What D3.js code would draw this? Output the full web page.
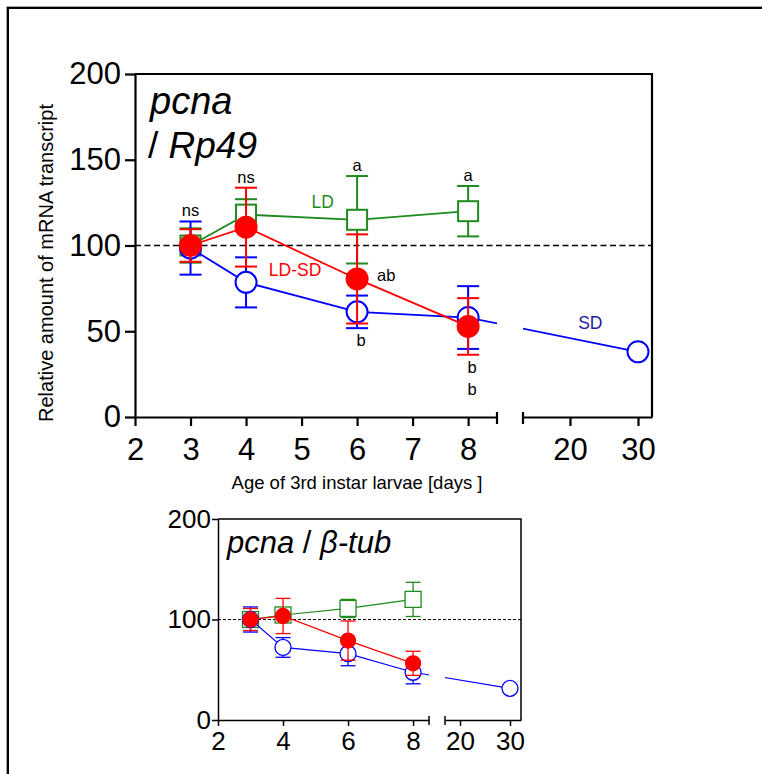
<!DOCTYPE html>
<html>
<head>
<meta charset="utf-8">
<script src="https://cdn.jsdelivr.net/npm/d3@7"></script>
<style>
  body { margin: 0; background: #fff; }
  text { font-family: "Liberation Sans", Arial, sans-serif; fill: #000; }
</style>
</head>
<body>
<script>
const W = 762;
const H = 774;

// sampling days (3rd instar larvae)
const days = [3, 4, 6, 8];
const sdDays = [3, 4, 6, 8, 30];

// pcna / Rp49 (main panel)
const ldRp49 = [100, 118, 115, 120];
const ldRp49Err = [10, 9, 25.5, 14.7];
const ldsdRp49 = [100, 110.7, 80.5, 52.8];
const ldsdRp49Err = [9.5, 23, 26, 16.5];
const sdRp49 = [98.5, 78.5, 61.3, 58, 38];
const sdRp49Err = [15.5, 14.6, 9.5, 18.3, 0];

// pcna / beta-tub (small panel)
const ldTub = [100, 104.5, 111, 120];
const ldTubErr = [7, 6, 9, 17];
const ldsdTub = [100, 103.5, 79, 56.4];
const ldsdTubErr = [11, 17.5, 19.5, 12];
const sdTub = [100, 72.2, 66, 47.5, 31.5];
const sdTubErr = [12.5, 9.8, 12, 11.5, 0];

// significance letters, one per day
const sigTop = ["ns", "ns", "a", "a"];
const sigBottom = [[], [], ["b"], ["b", "b"]];
const sigLdsd = ["", "", "ab", ""];

// axis ticks
const yTicks = [0, 50, 100, 150, 200];
const xTicks1 = [2, 3, 4, 5, 6, 7, 8];
const xTicks2 = [20, 30];
const yTicksSmall = [0, 100, 200];
const xTicks1Small = [2, 4, 6, 8];

const GREEN = "#1f8a1f";
const RED = "#ff0000";
const BLUE = "#0000ff";
const NAVY = "#1c1ca0";

const svg = d3
  .select("body")
  .append("svg")
  .attr("width", W)
  .attr("height", H);

// outer frame (runs off the right / bottom edge)
svg.append("path").attr("d", `M6.5,${H}V6.5H${W}`)
  .attr("fill", "none").attr("stroke", "#aaa").attr("stroke-width", 1);
svg.append("path").attr("d", `M8,${H}V8H${W}`)
  .attr("fill", "none").attr("stroke", "#000").attr("stroke-width", 2);

function drawPanel(p) {
  const g = svg.append("g");
  const y = d3.scaleLinear().domain([0, 200]).range([p.bottom, p.top]);
  const x1 = d3.scaleLinear().domain(p.dom1).range([p.left, p.brk0]);
  const x2 = d3.scaleLinear().domain(p.dom2).range([p.brk1, p.right]);
  const x = (d) => (d <= p.dom1[1] ? x1(d) : x2(d));
  const fmt = d3.format("d");

  // clip that leaves the axis break empty
  const clip = g.append("clipPath").attr("id", p.id + "-clip");
  clip.append("rect").attr("x", p.left).attr("y", p.top)
    .attr("width", p.brk0 - p.left).attr("height", p.bottom - p.top);
  clip.append("rect").attr("x", p.brk1).attr("y", p.top)
    .attr("width", p.right - p.brk1).attr("height", p.bottom - p.top);

  // 100 % reference line
  g.append("line")
    .attr("x1", p.left).attr("x2", p.right)
    .attr("y1", y(100)).attr("y2", y(100))
    .attr("stroke", "#000").attr("stroke-width", p.dashW)
    .attr("stroke-dasharray", p.dash);

  function series(xs, means, errs, color, shape, filled) {
    const s = g.append("g");
    const line = d3.line().x((d, i) => x(xs[i])).y((d) => y(d));
    s.append("path").datum(means)
      .attr("d", line)
      .attr("fill", "none")
      .attr("stroke", color)
      .attr("stroke-width", p.lineW)
      .attr("clip-path", `url(#${p.id}-clip)`);

    const bars = s.selectAll(".eb").data(means.map((m, i) => ({ m, e: errs[i], d: xs[i] })).filter((d) => d.e > 0))
      .enter().append("g").attr("stroke", color).attr("stroke-width", p.barW);
    bars.append("line")
      .attr("x1", (d) => x(d.d)).attr("x2", (d) => x(d.d))
      .attr("y1", (d) => y(d.m - d.e)).attr("y2", (d) => y(d.m + d.e));
    [-1, 1].forEach((sgn) => {
      bars.append("line")
        .attr("x1", (d) => x(d.d) - p.cap / 2).attr("x2", (d) => x(d.d) + p.cap / 2)
        .attr("y1", (d) => y(d.m + sgn * d.e)).attr("y2", (d) => y(d.m + sgn * d.e));
    });

    const pts = means.map((m, i) => ({ m, d: xs[i] }));
    if (shape === "square") {
      s.selectAll("rect").data(pts).enter().append("rect")
        .attr("x", (d) => x(d.d) - p.sq / 2).attr("y", (d) => y(d.m) - p.sq / 2)
        .attr("width", p.sq).attr("height", p.sq)
        .attr("fill", "#fff").attr("stroke", color).attr("stroke-width", p.markW);
    } else {
      s.selectAll("circle").data(pts).enter().append("circle")
        .attr("cx", (d) => x(d.d)).attr("cy", (d) => y(d.m))
        .attr("r", filled ? p.rFill : p.rOpen)
        .attr("fill", filled ? color : "#fff")
        .attr("stroke", color).attr("stroke-width", p.markW);
    }
  }

  series(days, p.ld, p.ldErr, GREEN, "square", false);
  series(sdDays, p.sd, p.sdErr, BLUE, "circle", false);
  series(days, p.ldsd, p.ldsdErr, RED, "circle", true);

  // frame top + right
  g.append("path")
    .attr("d", `M${p.left},${p.top}H${p.right}V${p.bottom}`)
    .attr("fill", "none").attr("stroke", "#000").attr("stroke-width", p.axisW);

  // axes
  const yAxis = g.append("g")
    .attr("transform", `translate(${p.left},0)`)
    .call(d3.axisLeft(y).tickValues(p.yTicks).tickFormat(fmt)
      .tickSize(p.yTick).tickPadding(p.yPad).tickSizeOuter(0));
  const xa1 = g.append("g")
    .attr("transform", `translate(0,${p.bottom})`)
    .call(d3.axisBottom(x1).tickValues(p.xTicks1).tickFormat(fmt)
      .tickSize(p.xTick).tickPadding(p.xPad).tickSizeOuter(0));
  const xa2 = g.append("g")
    .attr("transform", `translate(0,${p.bottom})`)
    .call(d3.axisBottom(x2).tickValues(xTicks2).tickFormat(fmt)
      .tickSize(p.xTick).tickPadding(p.xPad).tickSizeOuter(0));
  [yAxis, xa1, xa2].forEach((a) => {
    a.selectAll("path, line").attr("stroke", "#000").attr("stroke-width", p.axisW);
    a.selectAll("text")
      .attr("font-size", p.tickFont)
      .attr("font-family", '"Liberation Sans", Arial, sans-serif')
      .attr("fill", "#000");
  });
  // break caps
  [p.brk0, p.brk1].forEach((bx) => {
    g.append("line")
      .attr("x1", bx).attr("x2", bx)
      .attr("y1", p.bottom - p.capUp).attr("y2", p.bottom + p.capDown)
      .attr("stroke", "#000").attr("stroke-width", p.axisW);
  });

  return { g, x, x1, x2, y };
}

// ---------- main panel ----------
const main = drawPanel({
  id: "main",
  left: 135, right: 652, top: 74, bottom: 417,
  brk0: 497, brk1: 523,
  dom1: [2, 8.52], dom2: [13.09, 32.06],
  ld: ldRp49, ldErr: ldRp49Err, ldsd: ldsdRp49, ldsdErr: ldsdRp49Err, sd: sdRp49, sdErr: sdRp49Err,
  yTicks: yTicks, xTicks1: xTicks1,
  lineW: 1.8, barW: 2, markW: 2, axisW: 2.2,
  cap: 22, sq: 20, rFill: 10.5, rOpen: 10.5,
  dash: "6,3.5", dashW: 1.6,
  yTick: 10, yPad: 4, xTick: 9, xPad: 12, capUp: 5, capDown: 7,
  tickFont: 31
});

// significance letters
const topOf = (i) => d3.max([ldRp49[i] + ldRp49Err[i], ldsdRp49[i] + ldsdRp49Err[i], sdRp49[i] + sdRp49Err[i]]);
const botOf = (i) => d3.min([ldRp49[i] - ldRp49Err[i], ldsdRp49[i] - ldsdRp49Err[i], sdRp49[i] - sdRp49Err[i]]);
main.g.selectAll(".sigTop").data(sigTop).enter().append("text")
  .attr("x", (d, i) => main.x(days[i]))
  .attr("y", (d, i) => main.y(topOf(i)) - 5)
  .attr("text-anchor", "middle").attr("font-size", 16.5).text((d) => d);
sigBottom.forEach((letters, i) => {
  letters.forEach((l, k) => {
    main.g.append("text")
      .attr("x", main.x(days[i]) + 4)
      .attr("y", main.y(botOf(i)) + 18 + k * 22)
      .attr("text-anchor", "middle").attr("font-size", 16.5).text(l);
  });
});
sigLdsd.forEach((l, i) => {
  if (!l) return;
  main.g.append("text")
    .attr("x", main.x(days[i]) + 20)
    .attr("y", main.y(ldsdRp49[i]) + 2)
    .attr("font-size", 16.5).text(l);
});

// series names
main.g.append("text").attr("x", main.x(5.18)).attr("y", main.y(121.8))
  .attr("font-size", 17.5).style("fill", GREEN).text("LD");
main.g.append("text").attr("x", main.x(4.41)).attr("y", main.y(82))
  .attr("font-size", 17.5).style("fill", RED).text("LD-SD");
main.g.append("text").attr("x", main.x(21.2)).attr("y", main.y(51.3))
  .attr("font-size", 17.5).style("fill", NAVY).text("SD");

// title
main.g.append("text").attr("x", 150).attr("y", 114)
  .attr("font-size", 38).attr("font-style", "italic").text("pcna");
main.g.append("text").attr("x", 148).attr("y", 158)
  .attr("font-size", 37).attr("font-style", "italic")
  .html('<tspan font-style="normal">/ </tspan>Rp49');

// axis titles
svg.append("text")
  .attr("transform", "translate(53,263) rotate(-90)")
  .attr("text-anchor", "middle").attr("font-size", 20)
  .text("Relative amount of mRNA transcript");
svg.append("text")
  .attr("x", 357).attr("y", 489)
  .attr("text-anchor", "middle").attr("font-size", 18.5)
  .text("Age of 3rd instar larvae [days ]");

// ---------- small panel ----------
const small = drawPanel({
  id: "small",
  left: 218, right: 521, top: 519, bottom: 720,
  brk0: 429, brk1: 445,
  dom1: [2, 8.49], dom2: [17, 32.2],
  ld: ldTub, ldErr: ldTubErr, ldsd: ldsdTub, ldsdErr: ldsdTubErr, sd: sdTub, sdErr: sdTubErr,
  yTicks: yTicksSmall, xTicks1: xTicks1Small,
  lineW: 1.2, barW: 1.3, markW: 1.3, axisW: 1.5,
  cap: 15, sq: 16, rFill: 7.5, rOpen: 8,
  dash: "3,2", dashW: 1.1,
  yTick: 6, yPad: 1, xTick: 6, xPad: 6, capUp: 4, capDown: 5,
  tickFont: 26
});

small.g.append("text").attr("x", 227).attr("y", 553)
  .attr("font-size", 31).attr("font-style", "italic")
  .html('pcna <tspan font-style="normal">/</tspan> β-tub');
</script>
</body>
</html>
